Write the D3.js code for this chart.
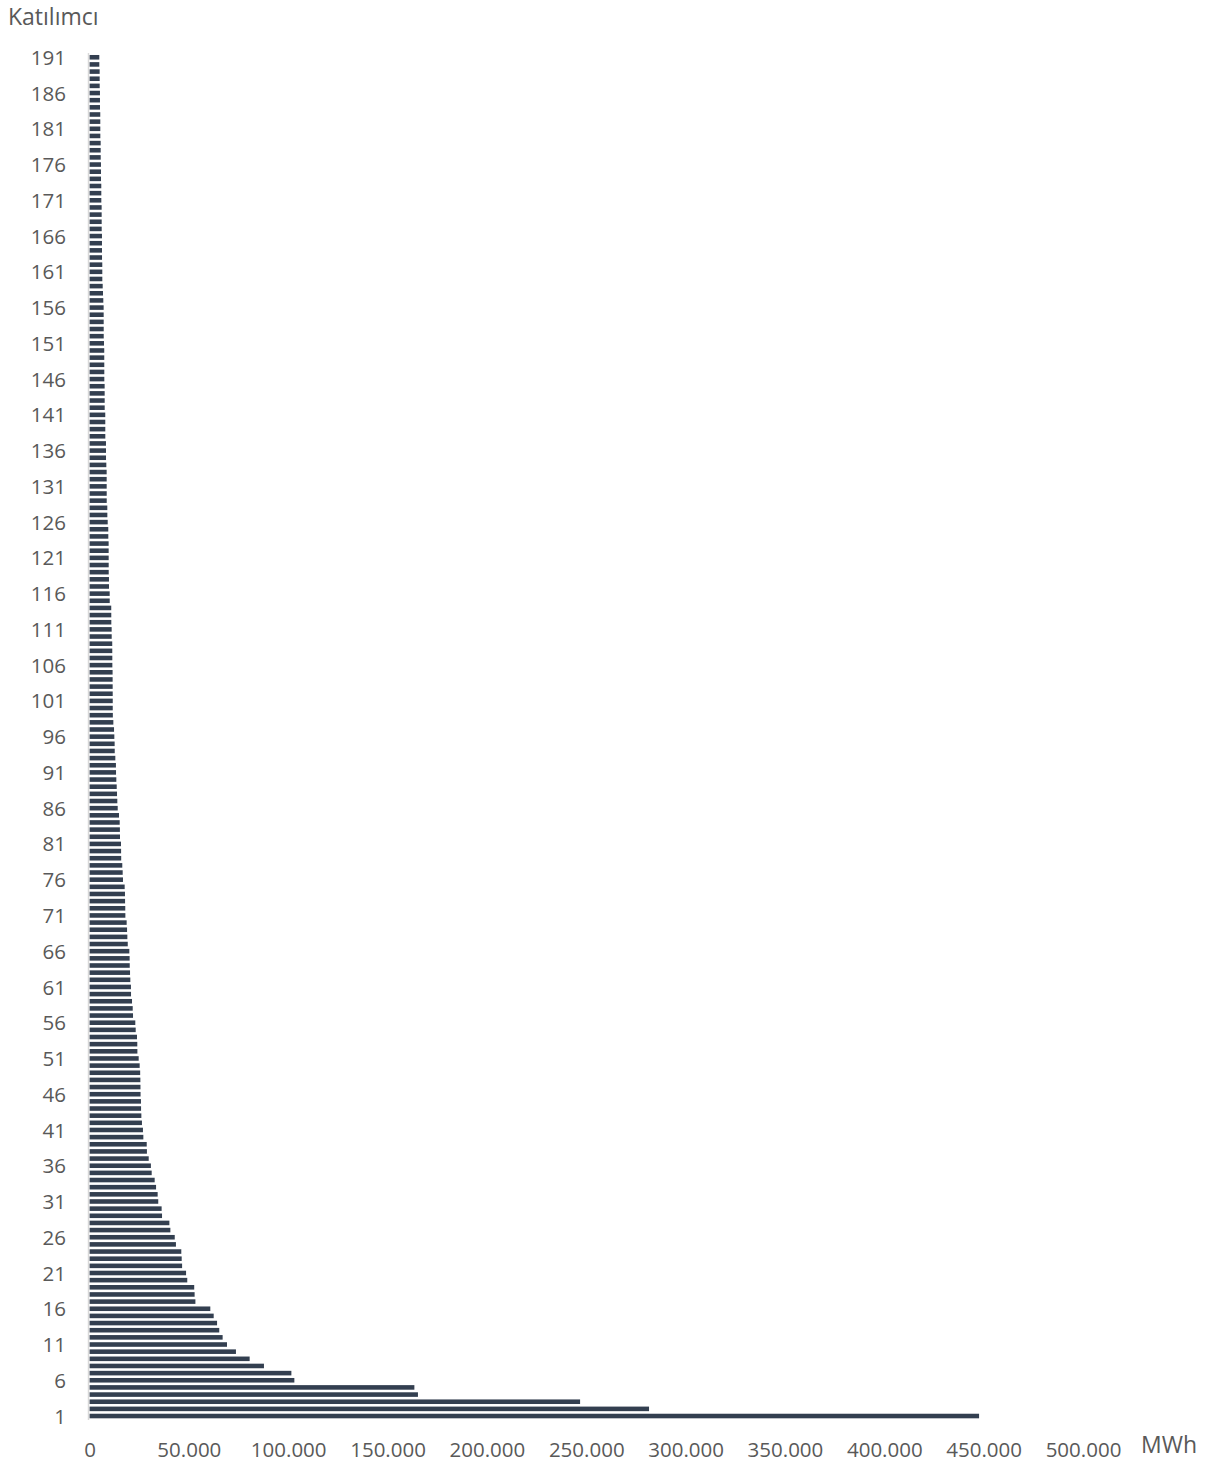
<!DOCTYPE html>
<html>
<head>
<meta charset="utf-8">
<script src="https://cdn.jsdelivr.net/npm/d3@7"></script>
<style>
  html, body { margin: 0; padding: 0; background: #ffffff; }
  svg { display: block; }
</style>
</head>
<body>
<svg id="chart" width="1217" height="1466"></svg>
<script>
// ---------- DATA ----------
const categories = d3.range(1, 192).map(String);

const values = [
  447700, 281600, 246900, 165300, 163500, 103100, 101600, 87800, 80600, 73700,
  69200, 67000, 65300, 64200, 62500, 60800, 53300, 52900, 52700, 49200,
  48600, 46600, 46400, 46200, 43500, 42900, 40700, 40200, 36500, 36300,
  34600, 34300, 33500, 32800, 31300, 30900, 29800, 28900, 28800, 27100,
  26900, 26400, 26100, 25950, 25900, 25700, 25650, 25600, 25500, 25250,
  24750, 24100, 24050, 23900, 23250, 23050, 21900, 21750, 21400, 20900,
  20850, 20550, 20400, 20250, 20200, 20050, 19250, 19050, 18900, 18700,
  18050, 18000, 17900, 17850, 17700, 16850, 16700, 16500, 15950, 15900,
  15850, 15350, 15300, 15200, 14850, 14200, 14000, 13850, 13700, 13500,
  13350, 13300, 13000, 12700, 12650, 12500, 12350, 12000, 11750, 11700,
  11700, 11680, 11660, 11640, 11620, 11500, 11480, 11460, 11440, 11170,
  11150, 10980, 10960, 10940, 10180, 10160, 9820, 9800, 9670, 9660,
  9650, 9640, 9630, 9470, 9450, 9160, 8980, 8960, 8670, 8660,
  8650, 8640, 8630, 8470, 8310, 8300, 8290, 7960, 7950, 7940,
  7930, 7650, 7640, 7630, 7620, 7460, 7450, 7440, 7430, 7420,
  7300, 7160, 7150, 7140, 7130, 7120, 6950, 6790, 6640, 6450,
  6440, 6430, 6300, 6290, 6280, 6270, 6140, 6130, 6120, 6110,
  5950, 5940, 5930, 5790, 5780, 5770, 5640, 5630, 5620, 5450,
  5440, 5430, 5420, 5280, 5270, 5260, 5130, 5120, 5110, 4940,
  4930
];

const yTickLabels = ["1","6","11","16","21","26","31","36","41","46","51","56","61","66","71","76","81","86","91","96","101","106","111","116","121","126","131","136","141","146","151","156","161","166","171","176","181","186","191"];
const xTickValues = [0, 50000, 100000, 150000, 200000, 250000, 300000, 350000, 400000, 450000, 500000];

const yTitle = "Katılımcı";
const xTitle = "MWh";

// ---------- CHART ----------
const svg = d3.select("#chart");
const FONT = "'Open Sans', 'DejaVu Sans', sans-serif";
const TEXT = "#595959";
const BAR = "#333F50";

const x = d3.scaleLinear().domain([0, 500000]).range([89.5, 1083]);
const y = d3.scaleBand()
  .domain(categories.slice().reverse())
  .range([53.7, 1419.6])
  .paddingInner(0.36)
  .paddingOuter(0.18);

const data = categories.map((c, i) => ({ cat: c, v: values[i] }));

// bars
svg.append("g")
  .selectAll("rect")
  .data(data)
  .join("rect")
  .attr("x", x(0))
  .attr("y", d => y(d.cat))
  .attr("width", d => x(d.v) - x(0))
  .attr("height", y.bandwidth())
  .attr("fill", BAR);

// vertical axis line
svg.append("line")
  .attr("x1", 88.5).attr("x2", 88.5)
  .attr("y1", 53).attr("y2", 1420)
  .attr("stroke", "#d9d9d9")
  .attr("stroke-width", 1.5);

// y axis labels
const yAxis = d3.axisLeft(y)
  .tickValues(yTickLabels)
  .tickSize(0)
  .tickPadding(0);
const gy = svg.append("g")
  .attr("transform", "translate(66,1)")
  .call(yAxis);
gy.select(".domain").remove();
gy.selectAll("text")
  .attr("fill", TEXT)
  .style("font-family", FONT)
  .style("font-size", "20.5px");

// x axis labels
const fmt = d3.formatLocale({ decimal: ",", thousands: ".", grouping: [3], currency: ["", ""] }).format(",d");
const xAxis = d3.axisBottom(x)
  .tickValues(xTickValues)
  .tickFormat(fmt)
  .tickSize(0)
  .tickPadding(0);
const gx = svg.append("g")
  .attr("transform", "translate(0,1442)")
  .call(xAxis);
gx.select(".domain").remove();
gx.selectAll("text")
  .attr("fill", TEXT)
  .style("font-family", FONT)
  .style("font-size", "20.5px");

// titles
svg.append("text")
  .attr("x", 8).attr("y", 25)
  .attr("fill", TEXT)
  .style("font-family", FONT)
  .style("font-size", "23px")
  .text(yTitle);

svg.append("text")
  .attr("x", 1141).attr("y", 1453)
  .attr("fill", TEXT)
  .style("font-family", FONT)
  .style("font-size", "23px")
  .text(xTitle);
</script>
</body>
</html>
